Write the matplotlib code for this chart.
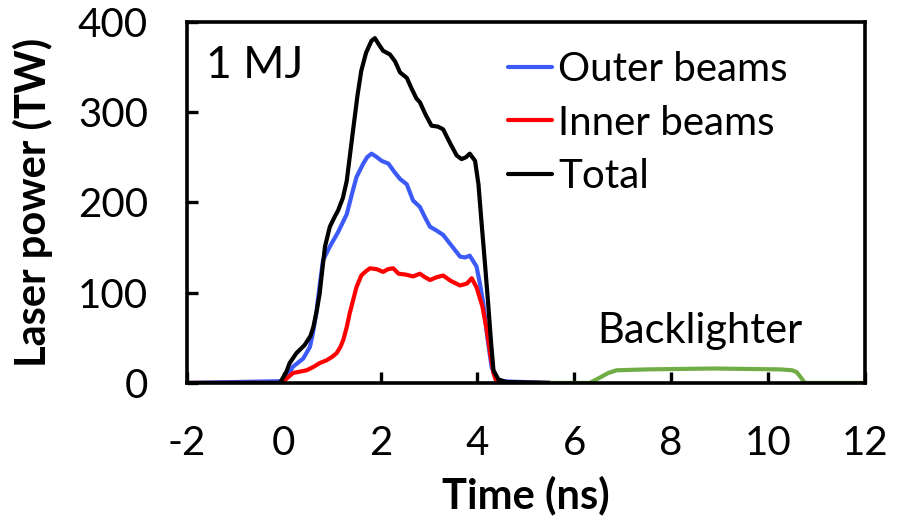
import numpy as np
import matplotlib
matplotlib.use('Agg')
import matplotlib.pyplot as plt

# --- Data ---
t_total = [-2, -0.08, 0.05, 0.12, 0.26, 0.43, 0.55, 0.61, 0.68, 0.74, 0.80, 0.85, 0.95, 1.05, 1.12,
           1.22, 1.30, 1.43, 1.52, 1.60, 1.70, 1.81, 1.88, 1.95,
           2.05, 2.19, 2.30, 2.40, 2.54, 2.64, 2.74, 2.81, 2.93, 3.05, 3.18, 3.29, 3.43, 3.57, 3.67,
           3.76, 3.84, 3.95, 4.02, 4.08, 4.15, 4.22, 4.28, 4.33, 4.43, 4.6, 5.5]
p_total = [0, 0, 12, 22, 33, 42, 52, 62, 80, 99, 128, 151, 173, 184, 191,
           205, 224, 280, 318, 346, 366, 379, 382, 376,
           368, 364, 356, 344, 338, 326, 315, 311, 297, 285, 284, 281, 266, 252, 248,
           250, 254, 246, 220, 180, 135, 88, 45, 14, 4, 1, 0]

t_outer = [-2, 0.0, 0.19, 0.40, 0.54, 0.60, 0.67, 0.74, 0.81, 0.95, 1.12, 1.30, 1.40, 1.50, 1.64, 1.72,
           1.81, 1.90, 2.02, 2.16, 2.28, 2.40, 2.54, 2.67, 2.81, 2.92, 3.02, 3.15, 3.29, 3.45, 3.64,
           3.74, 3.84, 3.98, 4.05, 4.12, 4.20, 4.29, 4.40, 5.5]
p_outer = [0, 2, 18, 27, 40, 55, 77, 108, 136, 151, 167, 187, 208, 228, 243, 250,
           254, 251, 246, 243, 234, 226, 220, 202, 195, 183, 173, 169, 164, 153, 140,
           139, 141, 129, 110, 88, 52, 18, 2, 0]

t_inner = [-2, -0.05, 0.19, 0.47, 0.62, 0.74, 0.88, 1.00, 1.09, 1.17, 1.23, 1.30, 1.36, 1.50, 1.60, 1.70,
           1.78, 1.92, 2.05, 2.15, 2.26, 2.37, 2.52, 2.67, 2.81, 2.92, 3.02, 3.15, 3.29, 3.45, 3.64,
           3.78, 3.88, 3.98, 4.10, 4.19, 4.27, 4.33, 4.40, 5.5]
p_inner = [0, 0, 11, 14, 18, 22, 25, 29, 33, 40, 48, 62, 77, 106, 119, 124,
           127, 126, 123, 126, 127, 121, 120, 118, 121, 117, 114, 117, 119, 113, 108,
           110, 116, 106, 85, 59, 30, 11, 0, 0]

t_back = [5.5, 6.32, 6.53, 6.70, 6.87, 7.5, 8.87, 10.25, 10.50, 10.59, 10.68, 10.76, 12]
p_back = [0, 0, 6, 11, 14, 15, 16, 15, 14, 12, 6, 0, 0]

labels = ['Outer beams', 'Inner beams', 'Total']
x_ticks = [-2, 0, 2, 4, 6, 8, 10, 12]
y_ticks = [0, 100, 200, 300, 400]

plt.rcParams['font.family'] = ['Lato', 'DejaVu Sans']

fig = plt.figure(figsize=(8.99, 5.21), dpi=100)
ax = fig.add_axes([0.208, 0.265, 0.754, 0.693])

lw = 3.0
style = dict(lw=lw, solid_joinstyle='round', solid_capstyle='round')
l_outer, = ax.plot(t_outer, p_outer, color='#3c5af8', label=labels[0], **style)
l_inner, = ax.plot(t_inner, p_inner, color='#ff0000', label=labels[1], **style)
l_total, = ax.plot(t_total, p_total, color='black', label=labels[2], **style)
ax.plot(t_back, p_back, color='#70ad47', **style)

ax.set_xlim(-2, 12)
ax.set_ylim(0, 400)
ax.set_xticks(x_ticks)
ax.set_yticks(y_ticks)
ax.set_xticklabels([str(v) for v in x_ticks])
ax.tick_params(direction='in', length=8, width=2.4, labelsize=29)
ax.tick_params(axis='x', pad=30)
ax.tick_params(axis='y', pad=28)
for s in ax.spines.values():
    s.set_linewidth(2.6)

ax.set_xlabel('Time (ns)', fontsize=30, fontweight='bold', labelpad=10)
ax.set_ylabel('Laser power (TW)', fontsize=30, fontweight='bold', labelpad=18)

ax.text(-1.6, 352, '1 MJ', fontsize=32, va='center', ha='left')
ax.text(8.6, 58, 'Backlighter', fontsize=30, va='center', ha='center')

ax.legend(handles=[l_outer, l_inner, l_total], loc='upper left', bbox_to_anchor=(0.45, 0.965),
          frameon=False, fontsize=29, handlelength=1.1, handletextpad=0.15, labelspacing=0.42,
          borderaxespad=0)

fig.savefig('out.png', dpi=100)
